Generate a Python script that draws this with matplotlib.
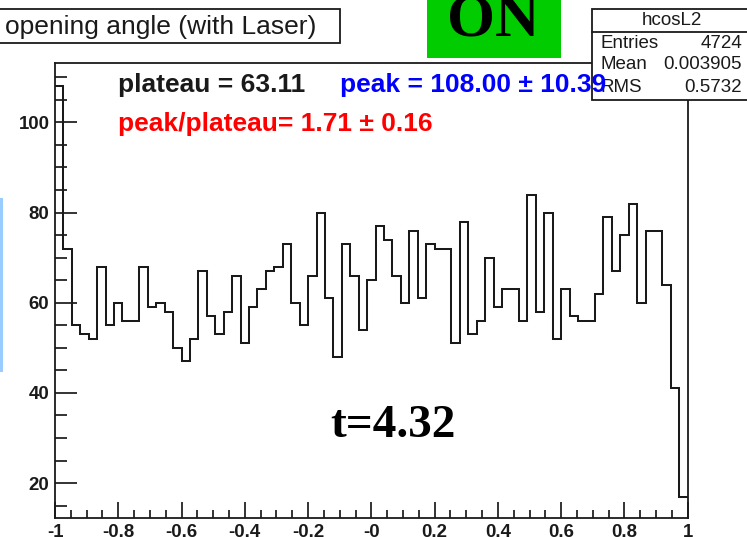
import numpy as np
import matplotlib
matplotlib.use("Agg")
import matplotlib.pyplot as plt
from matplotlib.patches import Rectangle
from matplotlib.ticker import MultipleLocator, FixedLocator, FixedFormatter

plt.rcParams['font.family'] = ['Liberation Sans', 'DejaVu Sans']

# cos(opening angle) histogram, 75 bins over [-1, 1]
counts = [108, 72, 55, 53, 52, 68, 55, 60, 56, 56,
          68, 59, 60, 58, 50, 47, 52, 67, 57, 53,
          58, 66, 51, 59, 63, 67, 68, 73, 60, 55,
          66, 80, 61, 48, 73, 66, 54, 65, 77, 74,
          66, 60, 76, 61, 73, 72, 72, 51, 78, 53,
          56, 70, 59, 63, 63, 56, 84, 58, 80, 52,
          63, 57, 56, 56, 62, 79, 67, 75, 82, 60,
          76, 76, 64, 41, 17]
x_lo, x_hi = -1.0, 1.0
y_lo, y_hi = 12.2, 113.1

x_ticks = [-1.0, -0.8, -0.6, -0.4, -0.2, 0.0, 0.2, 0.4, 0.6, 0.8, 1.0]
x_tick_labels = ["-1", "-0.8", "-0.6", "-0.4", "-0.2", "-0", "0.2", "0.4", "0.6", "0.8", "1"]
y_ticks = [20, 40, 60, 80, 100]
y_tick_labels = ["20", "40", "60", "80", "100"]

title = "opening angle (with Laser)"
hist_name = "hcosL2"
stats = [("Entries", "4724"), ("Mean", "0.003905"), ("RMS", "0.5732")]
plateau = 63.11
peak, peak_err = 108.00, 10.39
ratio, ratio_err = 1.71, 0.16
t_value = 4.32

W, H = 747, 537
fig = plt.figure(figsize=(W / 100, H / 100), dpi=100)
fig.patch.set_facecolor("white")

INK = "#1a1a1a"

# main histogram frame (pixel geometry converted to figure fractions)
L, R, T, B = 55.0, 687.7, 63.3, 518.3
ax = fig.add_axes([L / W, 1 - B / H, (R - L) / W, (B - T) / H])
edges = np.linspace(x_lo, x_hi, len(counts) + 1)
ax.stairs(counts, edges, baseline=None, color=INK, lw=1.45)
ax.set_xlim(x_lo, x_hi)
ax.set_ylim(y_lo, y_hi)

for s in ax.spines.values():
    s.set_linewidth(1.3)
    s.set_color(INK)

ax.xaxis.set_major_locator(FixedLocator(x_ticks))
ax.xaxis.set_major_formatter(FixedFormatter(x_tick_labels))
ax.xaxis.set_minor_locator(MultipleLocator(0.05))
ax.yaxis.set_major_locator(FixedLocator(y_ticks))
ax.yaxis.set_major_formatter(FixedFormatter(y_tick_labels))
ax.yaxis.set_minor_locator(MultipleLocator(5))

ax.tick_params(axis="both", which="both", direction="in", top=False, right=False,
               width=1.25, color=INK, labelsize=13.4, labelcolor=INK)
ax.tick_params(axis="y", which="major", length=15.6, pad=4)
ax.tick_params(axis="y", which="minor", length=8.9)
ax.tick_params(axis="x", which="major", length=11.3, pad=4)
ax.tick_params(axis="x", which="minor", length=5.5)
for lab in ax.get_xticklabels() + ax.get_yticklabels():
    lab.set_fontweight("bold")

# overlay in pixel coordinates for boxes and annotations
ov = fig.add_axes([0, 0, 1, 1], zorder=5)
ov.set_xlim(0, W)
ov.set_ylim(H, 0)
ov.axis("off")
ov.patch.set_visible(False)

# title box
ov.add_patch(Rectangle((-3, 9.3), 343, 33.4, facecolor="white",
                       edgecolor=INK, lw=1.3))
ov.text(5, 34, title, fontsize=19, color=INK, va="baseline", ha="left")

# green ON label
ov.add_patch(Rectangle((427, -3), 134, 61, facecolor="#00cc00", edgecolor="none"))
ov.text(447, 35, "ON", fontsize=44.5, fontweight="bold", family="Liberation Serif",
        color="black", va="baseline", ha="left")

# statistics box
ov.add_patch(Rectangle((592.3, 9.3), 160, 90.7, facecolor="white",
                       edgecolor=INK, lw=1.3))
ov.plot([592.3, 750], [32.3, 32.3], color=INK, lw=1.3)
ov.text(671.5, 25, hist_name, fontsize=13.5, ha="center", va="baseline", color=INK)
for (name, val), yb in zip(stats, [48, 69, 92]):
    ov.text(600, yb, name, fontsize=13.5, ha="left", va="baseline", color=INK)
    ov.text(742, yb, val, fontsize=13.5, ha="right", va="baseline", color=INK)

# fit summary texts
ov.text(118, 92, f"plateau = {plateau:.2f}", fontsize=19, fontweight="bold",
        color=INK, ha="left", va="baseline", zorder=10)
ov.text(340, 92, f"peak = {peak:.2f} \u00b1 {peak_err:.2f}", fontsize=19,
        fontweight="bold", color="#0000ff", ha="left", va="baseline", zorder=10)
ov.text(118, 131, f"peak/plateau= {ratio:.2f} \u00b1 {ratio_err:.2f}", fontsize=19,
        fontweight="bold", color="#ff0000", ha="left", va="baseline", zorder=10)

ov.text(330, 437, f"t={t_value:.2f}", fontsize=34, fontweight="bold",
        family="Liberation Serif", color="black", ha="left", va="baseline")

# light blue strip at the left edge
ov.add_patch(Rectangle((0, 198), 2.7, 174, facecolor="#99ccff", edgecolor="none"))

fig.savefig("out.png", dpi=100)
